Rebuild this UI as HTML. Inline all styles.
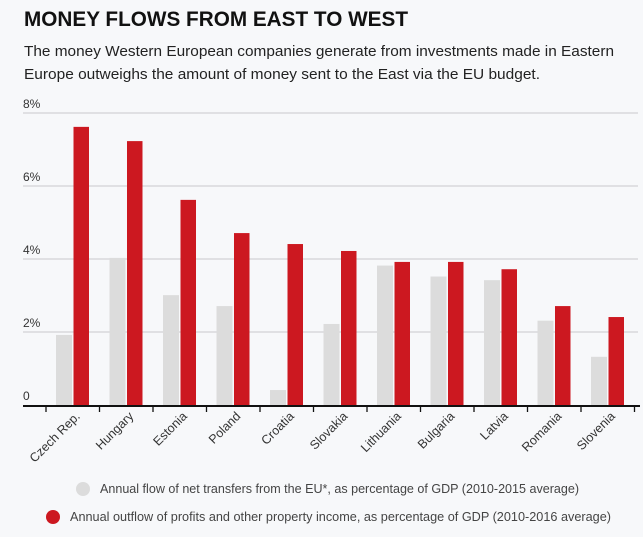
<!DOCTYPE html>
<html><head><meta charset="utf-8"><style>
html,body{margin:0;padding:0;background:#f7f8fa;}
svg{display:block;font-family:"Liberation Sans",sans-serif;}
</style></head><body>
<svg id="chart" width="643" height="537" viewBox="0 0 643 537">
<rect x="0" y="0" width="643" height="537" fill="#f7f8fa"/>
<text x="24" y="26" font-size="21" font-weight="bold" fill="#111" textLength="384" lengthAdjust="spacingAndGlyphs">MONEY FLOWS FROM EAST TO WEST</text>
<text x="24" y="56" font-size="15" fill="#222" textLength="590" lengthAdjust="spacingAndGlyphs">The money Western European companies generate from investments made in Eastern</text>
<text x="24" y="79" font-size="15" fill="#222" textLength="516" lengthAdjust="spacingAndGlyphs">Europe outweighs the amount of money sent to the East via the EU budget.</text>
<g id="grid"></g>
<g id="bars"></g>
<g id="xaxis"></g>
<circle cx="83" cy="489" r="7" fill="#dcdcdc"/>
<text x="100" y="493" font-size="13" fill="#444" textLength="479" lengthAdjust="spacingAndGlyphs">Annual flow of net transfers from the EU*, as percentage of GDP (2010-2015 average)</text>
<circle cx="53" cy="517" r="7" fill="#cc1820"/>
<text x="70" y="521" font-size="13" fill="#444" textLength="541" lengthAdjust="spacingAndGlyphs">Annual outflow of profits and other property income, as percentage of GDP (2010-2016 average)</text>
</svg>
<script>
const categories = ["Czech Rep.","Hungary","Estonia","Poland","Croatia","Slovakia","Lithuania","Bulgaria","Latvia","Romania","Slovenia"];
const euTransfers = [1.92,4.03,3.01,2.71,0.41,2.22,3.82,3.52,3.42,2.31,1.32];
const profitOutflow = [7.62,7.23,5.62,4.71,4.41,4.22,3.92,3.92,3.72,2.71,2.41];
const yTicks = [0,2,4,6,8];
const yTickLabels = ["0","2%","4%","6%","8%"];

const NS = "http://www.w3.org/2000/svg";
const y0 = 405, pxPerUnit = 36.5, xStart = 46, band = 53.5;
const y = v => y0 - v * pxPerUnit;
const x = i => xStart + i * band;
function mk(tag, attrs, parent){const e=document.createElementNS(NS,tag);for(const k in attrs)e.setAttribute(k,attrs[k]);parent.appendChild(e);return e;}
const grid = document.getElementById('grid'), bars = document.getElementById('bars'), xa = document.getElementById('xaxis');

yTicks.forEach((t,i)=>{
  if(t>0){
    const l = mk('line',{x1:23,x2:638,y1:y(t),y2:y(t),stroke:'#c8c8cc','stroke-width':1},grid);
    
    
  }
  const tx = mk('text',{x:23,y:y(t)-5,'font-size':12,fill:'#333'},grid);
  tx.textContent = yTickLabels[i];
  
  
});

categories.forEach((c,i)=>{
  const g = mk('rect',{x:x(i)+10,y:y(euTransfers[i]),width:16,height:euTransfers[i]*pxPerUnit,fill:'#dcdcdc'},bars);
  
  
  const r = mk('rect',{x:x(i)+27.5,y:y(profitOutflow[i]),width:15.5,height:profitOutflow[i]*pxPerUnit,fill:'#cc1820'},bars);
  
  
  const tk = mk('line',{x1:x(i),x2:x(i),y1:y0,y2:y0+7,stroke:'#111','stroke-width':1.3},xa);
  
  
  const cx = x(i)+band/2+8, cy = y0+12;
  const lb = mk('text',{x:cx,y:cy,'font-size':12.5,fill:'#333','text-anchor':'end',transform:`rotate(-45 ${cx} ${cy})`},xa);
  lb.textContent = c;
  
  
});
const last = mk('line',{x1:x(categories.length),x2:x(categories.length),y1:y0,y2:y0+7,stroke:'#111','stroke-width':1.3},xa);


const base = mk('line',{x1:23,x2:640,y1:y0+1,y2:y0+1,stroke:'#111','stroke-width':2},xa);


</script>
</body></html>
